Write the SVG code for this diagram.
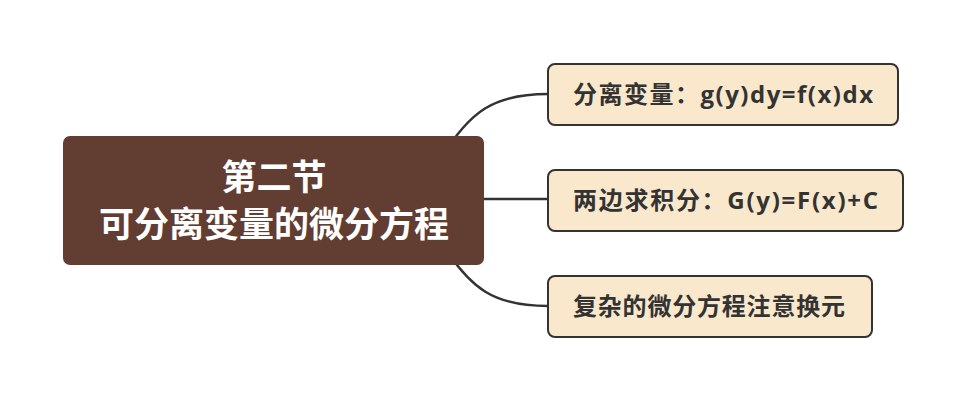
<svg xmlns="http://www.w3.org/2000/svg" width="966" height="400" viewBox="0 0 966 400">
<style>
.conn{fill:none;stroke:#333333;stroke-width:2.5;stroke-linecap:round}
.sub rect{fill:#f9e8cc;stroke:#333333;stroke-width:2}
.sub text{fill:#333333;font-family:"Open Sans","Noto Sans CJK SC",sans-serif;font-weight:bold;font-size:24px}
.root text{fill:#ffffff;font-family:"Noto Sans CJK SC",sans-serif;font-weight:bold;font-size:35px;text-anchor:middle}
</style>
<rect width="966" height="400" fill="#ffffff"/>
<g id="connectors">
<path class="conn" d="M440,160 C470,110 495,94 548,94"/>
<path class="conn" d="M470,199 L548,199"/>
<path class="conn" d="M440,240 C470,290 495,306 548,306"/>
</g>
<g id="root" class="root">
<rect x="63" y="136" width="421" height="129" rx="7" fill="#623d32"/>
<text x="274" y="190">第二节</text>
<text x="274" y="237">可分离变量的微分方程</text>
</g>
<g id="node1" class="sub">
<rect x="548" y="64" width="350" height="61" rx="7"/>
<text x="573" y="103" textLength="300" lengthAdjust="spacing">分离变量：g(y)dy=f(x)dx</text>
</g>
<g id="node2" class="sub">
<rect x="548" y="170" width="355" height="61" rx="7"/>
<text x="573" y="209" textLength="305" lengthAdjust="spacing">两边求积分：G(y)=F(x)+C</text>
</g>
<g id="node3" class="sub">
<rect x="548" y="276" width="324" height="61" rx="7"/>
<text x="573" y="315" textLength="272" lengthAdjust="spacing">复杂的微分方程注意换元</text>
</g>
</svg>
